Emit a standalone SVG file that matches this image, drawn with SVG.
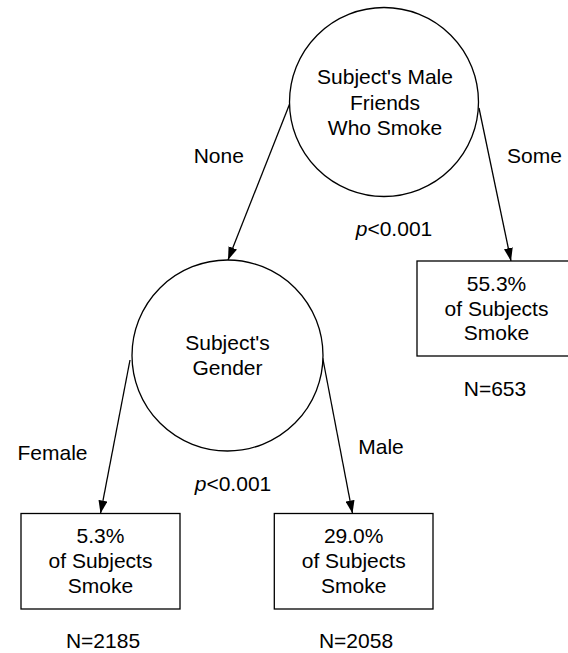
<svg xmlns="http://www.w3.org/2000/svg" width="568" height="653" viewBox="0 0 568 653">
<style>
text{font-family:"Liberation Sans",Arial,sans-serif;font-size:21px;fill:#000;text-anchor:middle}
.shape{fill:#fff;stroke:#000;stroke-width:1.3}
.conn line{stroke:#000;stroke-width:1.3;marker-end:url(#ah)}
</style>
<defs>
<marker id="ah" viewBox="0 0 13 9" refX="13" refY="4.5" markerWidth="13" markerHeight="9" markerUnits="userSpaceOnUse" orient="auto">
<path d="M0,0 L13,4.5 L0,9 z" fill="#000"/>
</marker>
</defs>
<rect width="568" height="653" fill="#fff"/>
<g id="connectors" class="conn">
<line x1="290" y1="103" x2="228" y2="260"/>
<line x1="479" y1="108" x2="511" y2="261"/>
<line x1="130" y1="360" x2="100.5" y2="513.5"/>
<line x1="322.7" y1="358" x2="352.5" y2="513.5"/>
</g>
<g id="node-friends">
<circle class="shape" cx="384" cy="102" r="94.5"/>
<text x="385" y="84">Subject's Male</text>
<text x="385" y="109.5">Friends</text>
<text x="385" y="135">Who Smoke</text>
</g>
<g id="node-gender">
<circle class="shape" cx="227.5" cy="355.5" r="95.5"/>
<text x="227.5" y="350">Subject's</text>
<text x="227.5" y="375">Gender</text>
</g>
<g id="node-some">
<rect class="shape" x="417" y="261" width="159" height="95"/>
<text x="496.5" y="291">55.3%</text>
<text x="496.5" y="315.5">of Subjects</text>
<text x="496.5" y="340">Smoke</text>
</g>
<g id="node-female">
<rect class="shape" x="21" y="513.5" width="159" height="95.5"/>
<text x="100.5" y="543">5.3%</text>
<text x="100.5" y="568">of Subjects</text>
<text x="100.5" y="593">Smoke</text>
</g>
<g id="node-male">
<rect class="shape" x="274.3" y="513.5" width="158.7" height="95.5"/>
<text x="353.7" y="543">29.0%</text>
<text x="353.7" y="568">of Subjects</text>
<text x="353.7" y="593">Smoke</text>
</g>
<g id="labels">
<text x="218.8" y="163.3">None</text>
<text x="534.5" y="162.7">Some</text>
<text x="394" y="236"><tspan font-style="italic">p</tspan>&lt;0.001</text>
<text x="495" y="396">N=653</text>
<text x="52.5" y="460">Female</text>
<text x="381" y="454">Male</text>
<text x="233" y="491">
<tspan font-style="italic">p</tspan>&lt;0.001</text>
<text x="103" y="648">N=2185</text>
<text x="356" y="648">N=2058</text>
</g>
</svg>
